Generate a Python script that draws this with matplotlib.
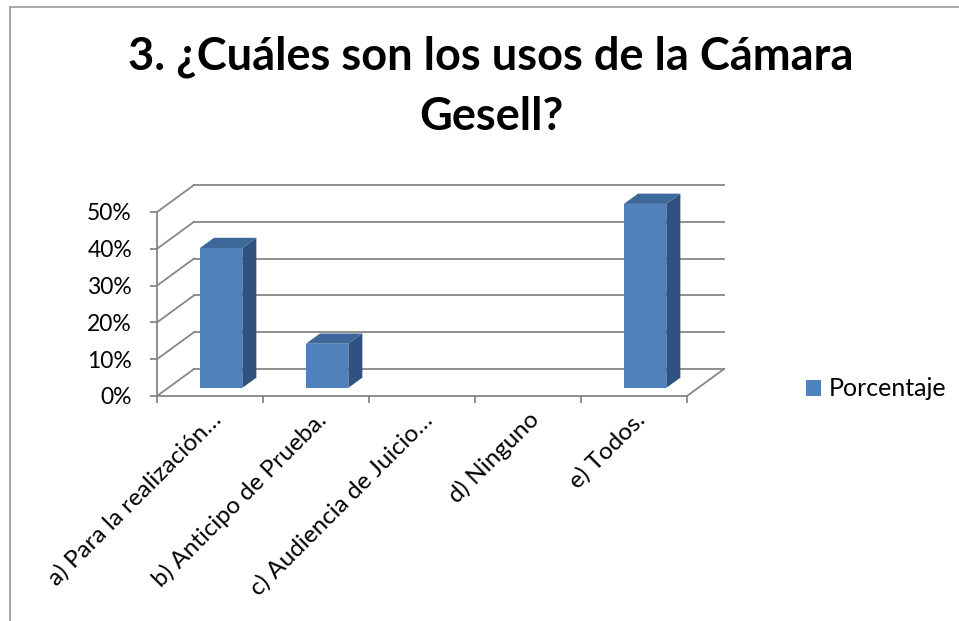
import matplotlib
matplotlib.use("Agg")
import matplotlib.pyplot as plt
from matplotlib.patches import Patch
from matplotlib.lines import Line2D

# data
categories = ["a) Para la realización…", "b) Anticipo de Prueba.",
              "c) Audiencia de Juicio…", "d) Ninguno", "e) Todos."]
values = [38, 12, 0, 0, 50]
yticks = [0, 10, 20, 30, 40, 50]
title = "3. ¿Cuáles son los usos de la Cámara\nGesell?"
series_name = "Porcentaje"

plt.rcParams['font.family'] = ['Lato', 'DejaVu Sans']

FRONT = '#4F81BD'
TOP = '#3D6899'
SIDE = '#2F5281'
GRID = '#868686'

# oblique depth of the 3d box (category units, percent units)
dx, dy = 0.349, 7.34
f1, f2 = 0.30, 0.68   # bar front / back depth fraction

fig = plt.figure(figsize=(9.59, 6.21), dpi=100)
ax = fig.add_axes([157 / 959, 1 - 396 / 621, 530 / 959, 184 / 621])
ax.set_xlim(0, len(categories))
ax.set_ylim(0, max(yticks))
ax.patch.set_visible(False)

# back wall gridlines + left wall diagonals
n = len(categories)
for y in yticks:
    ax.plot([dx, n + dx], [y + dy, y + dy], color=GRID, lw=1.3, clip_on=False, zorder=1)
    ax.plot([0, dx], [y, y + dy], color=GRID, lw=1.3, clip_on=False, zorder=1)
# floor right edge
ax.plot([n, n + dx], [0, dy], color=GRID, lw=1.3, clip_on=False, zorder=1)

# bars
for i, v in enumerate(values):
    if v <= 0:
        continue
    x0 = i + 0.3 + f1 * dx
    x1 = i + 0.7 + f1 * dx
    y0 = f1 * dy
    y1 = v + f1 * dy
    ddx = (f2 - f1) * dx
    ddy = (f2 - f1) * dy
    ax.fill([x1, x1 + ddx, x1 + ddx, x1], [y0, y0 + ddy, y1 + ddy, y1],
            color=SIDE, lw=0, clip_on=False, zorder=3)
    ax.fill([x0, x1, x1 + ddx, x0 + ddx], [y1, y1, y1 + ddy, y1 + ddy],
            color=TOP, lw=0, clip_on=False, zorder=3)
    ax.fill([x0, x1, x1, x0], [y0, y0, y1, y1],
            color=FRONT, lw=0, clip_on=False, zorder=4)

for s in ['top', 'right']:
    ax.spines[s].set_visible(False)
for s in ['left', 'bottom']:
    ax.spines[s].set_color(GRID)
    ax.spines[s].set_linewidth(1.3)

ax.set_yticks(yticks)
ax.set_yticklabels([f"{t}%" for t in yticks])
ax.tick_params(axis='y', length=5, width=1.3, color=GRID, pad=13, labelsize=16.5)
ax.set_xticks(range(n + 1))
ax.set_xticklabels([])
ax.tick_params(axis='x', length=5, width=1.3, color=GRID)

for i, lab in enumerate(categories):
    ax.text(i + 0.57, -5.5, lab, rotation=45, rotation_mode='anchor',
            ha='right', va='center', fontsize=17.5, clip_on=False)

fig.text(491 / 959, 1 - 35 / 621, title, ha='center', va='top',
         fontsize=32.5, fontweight='bold', linespacing=1.54)

fig.legend(handles=[Patch(facecolor=FRONT, edgecolor='none', label=series_name)],
           loc='center left', bbox_to_anchor=(806 / 959, 1 - 389 / 621),
           frameon=False, fontsize=18, handlelength=0.6, handleheight=0.6,
           handletextpad=0.3, borderpad=0, borderaxespad=0)

# chart area frame (only top and left visible in the crop)
fig.add_artist(Line2D([10 / 959, 10 / 959], [0, 1 - 7 / 621], color='#9A9A9A', lw=1.2))
fig.add_artist(Line2D([10 / 959, 1], [1 - 7 / 621, 1 - 7 / 621], color='#9A9A9A', lw=1.2))

fig.savefig("out.png", dpi=100)
